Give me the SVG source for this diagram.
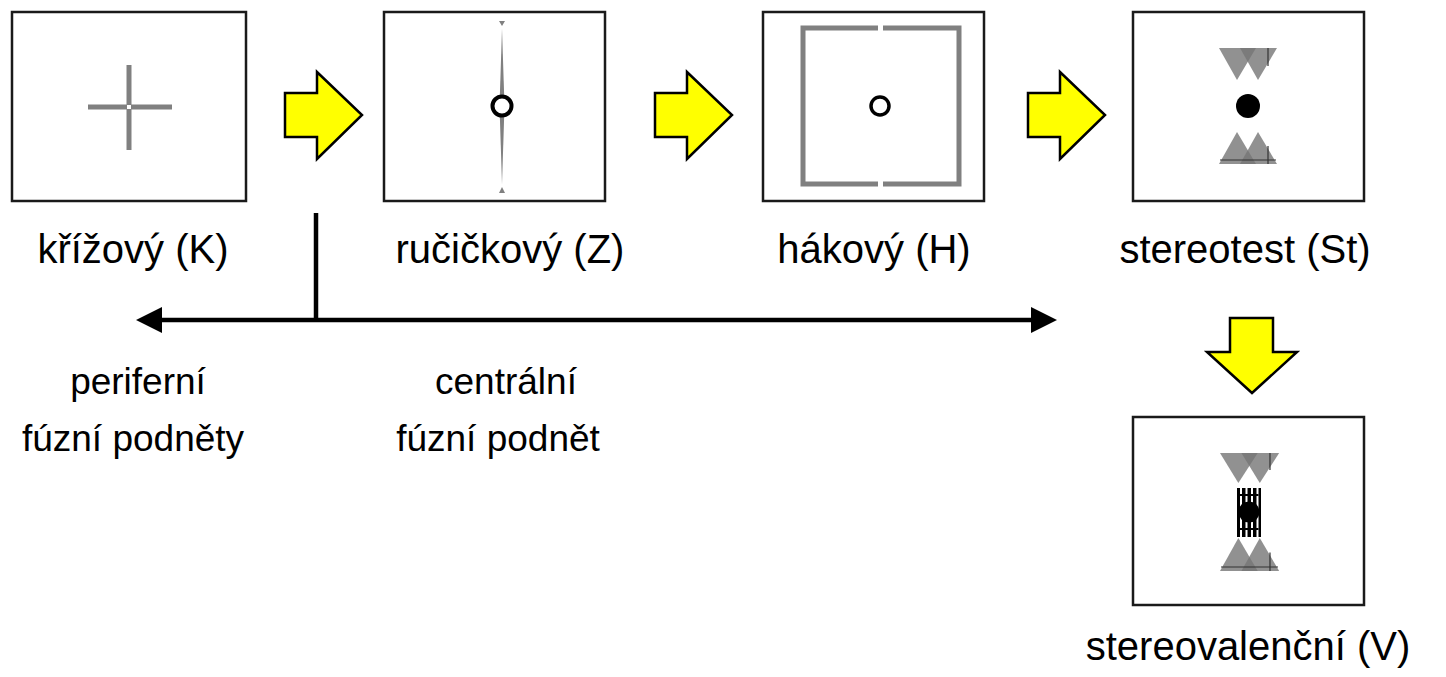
<svg xmlns="http://www.w3.org/2000/svg" width="1446" height="677" viewBox="0 0 1446 677">
<style>
.box{fill:#fff;stroke:#1a1a1a;stroke-width:2.5}
.g{fill:none;stroke:#808080}
.lab{font-family:"Liberation Sans",Arial,sans-serif;font-size:40px;fill:#000;text-anchor:middle}
.sm{font-family:"Liberation Sans",Arial,sans-serif;font-size:37px;fill:#000;text-anchor:middle}
.ya{fill:#ffff00;stroke:#000;stroke-width:2.5;stroke-linejoin:miter}
.tri{fill:#767676;fill-opacity:0.8}
.dl{stroke:#333;stroke-width:1.2}
</style>
<defs>
<g id="tris">
<polygon class="tri" points="0,0 37,0 18,32"/>
<polygon class="tri" points="21,0 58,0 39,32"/>
<line class="dl" x1="49" y1="0" x2="49" y2="18"/>
</g>
</defs>
<rect width="1446" height="677" fill="#fff"/>

<g id="node-K">
<rect class="box" x="12" y="12" width="234" height="189"/>
<line class="g" x1="129" y1="65" x2="129" y2="105" stroke-width="5"/>
<line class="g" x1="129" y1="109" x2="129" y2="150" stroke-width="5"/>
<line class="g" x1="88" y1="107" x2="127" y2="107" stroke-width="5"/>
<line class="g" x1="131" y1="107" x2="172" y2="107" stroke-width="5"/>
<text class="lab" x="133" y="263">křížový (K)</text>
</g>

<g id="node-Z">
<rect class="box" x="384" y="12" width="221" height="189"/>
<polygon fill="#808080" points="502,29 504.5,106 502,184 499.5,106"/>
<polygon fill="#808080" points="499,21 505,21 502,26"/>
<polygon fill="#808080" points="499,193 505,193 502,187"/>
<circle cx="502" cy="106" r="9.5" fill="#fff" stroke="#000" stroke-width="4"/>
<text class="lab" x="510" y="263">ručičkový (Z)</text>
</g>

<g id="node-H">
<rect class="box" x="763" y="12" width="221" height="189"/>
<path class="g" stroke-width="5" d="M878,28 H803 V184 H878 M883,28 H959 V184 H883"/>
<circle cx="880" cy="106" r="9" fill="#fff" stroke="#000" stroke-width="3.5"/>
<text class="lab" x="874" y="263">hákový (H)</text>
</g>

<g id="node-St">
<rect class="box" x="1133" y="12" width="231" height="189"/>
<use href="#tris" transform="translate(1219,48)"/>
<use href="#tris" transform="translate(1219,164) scale(1,-1)"/>
<line class="dl" x1="1220" y1="160" x2="1276" y2="160"/>
<circle cx="1248" cy="106" r="12" fill="#000"/>
<text class="lab" x="1245" y="263">stereotest (St)</text>
</g>

<g id="node-V">
<rect class="box" x="1133" y="417" width="231" height="188"/>
<use href="#tris" transform="translate(1220,453) scale(1.02,0.94)"/>
<use href="#tris" transform="translate(1220,571) scale(1.02,-1.03)"/>
<line class="dl" x1="1221" y1="567" x2="1278" y2="567"/>
<rect x="1237" y="488" width="24" height="49" fill="#000"/>
<g fill="#fff">
<rect x="1240" y="488" width="2" height="49"/>
<rect x="1245.5" y="488" width="2" height="49"/>
<rect x="1251" y="488" width="2" height="49"/>
<rect x="1256.5" y="488" width="2" height="49"/>
</g>
<g fill="#000">
<rect x="1240" y="494" width="18.5" height="2"/>
<rect x="1240" y="528" width="18.5" height="2"/>
</g>
<circle cx="1249" cy="512" r="10.5" fill="#000"/>
<text class="lab" x="1248" y="660">stereovalenční (V)</text>
</g>

<g id="connectors">
<polygon class="ya" points="285,93 317,93 317,72 362,115 317,159 317,137 285,137"/>
<polygon class="ya" points="655,93 687,93 687,72 732,115 687,159 687,137 655,137"/>
<polygon class="ya" points="1028,93 1060,93 1060,72 1105,115 1060,159 1060,137 1028,137"/>
<polygon class="ya" points="1230,318 1273,318 1273,352 1297,352 1252,393 1207,352 1230,352"/>
<line x1="316" y1="213" x2="316" y2="320" stroke="#000" stroke-width="4.5"/>
<line x1="158" y1="320" x2="1035" y2="320" stroke="#000" stroke-width="4.5"/>
<polygon fill="#000" points="136,320 162,307 162,333"/>
<polygon fill="#000" points="1057,320 1031,307 1031,333"/>
</g>

<g id="labels">
<text class="sm" x="138" y="394">periferní</text>
<text class="sm" x="133" y="451">fúzní podněty</text>
<text class="sm" x="506" y="394">centrální</text>
<text class="sm" x="498" y="451">fúzní podnět</text>
</g>
</svg>
